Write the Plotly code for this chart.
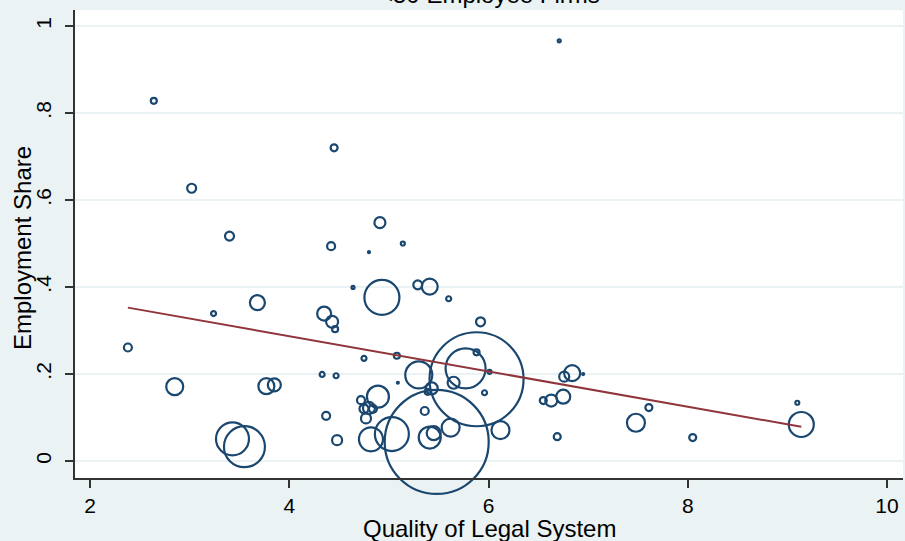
import plotly.graph_objects as go
import numpy as np

# Quality of legal system (x) and employment share of <50 employee firms (y)
legal_quality = [6.71, 2.64, 4.45, 3.02, 3.40, 4.91, 4.42, 4.80, 5.14, 4.64,
                 5.29, 5.41, 4.93, 5.60, 3.68, 3.24, 4.35, 4.43, 4.46, 5.92,
                 2.38, 4.75, 5.08, 5.88, 5.88, 5.77, 6.01, 4.33, 4.47, 5.09,
                 5.30, 5.65, 5.96, 5.43, 5.39, 4.89, 4.72, 4.75, 4.80, 4.84,
                 4.77, 4.37, 4.48, 4.82, 5.03, 5.48, 5.36, 5.41, 5.45, 5.62,
                 6.12, 2.85, 3.77, 3.85, 3.43, 3.55, 6.84, 6.76, 6.95, 6.75,
                 6.63, 6.55, 6.69, 7.48, 7.61, 8.05, 9.10, 9.14]
employment_share = [0.966, 0.828, 0.720, 0.627, 0.517, 0.548, 0.494, 0.480, 0.500, 0.399,
                    0.405, 0.401, 0.376, 0.373, 0.364, 0.339, 0.339, 0.320, 0.303, 0.320,
                    0.261, 0.236, 0.242, 0.250, 0.188, 0.213, 0.205, 0.199, 0.196, 0.180,
                    0.198, 0.180, 0.157, 0.167, 0.159, 0.148, 0.140, 0.120, 0.122, 0.120,
                    0.098, 0.104, 0.048, 0.050, 0.062, 0.044, 0.115, 0.054, 0.064, 0.077,
                    0.071, 0.171, 0.172, 0.175, 0.051, 0.033, 0.202, 0.194, 0.200, 0.148,
                    0.139, 0.139, 0.056, 0.088, 0.123, 0.054, 0.134, 0.084]
# Relative weight (e.g. country employment) that sets the bubble area
country_weight = [0.09, 0.36, 0.49, 0.81, 0.81, 1.21, 0.64, 0.04, 0.16, 0.09,
                  0.81, 2.56, 12.25, 0.25, 2.25, 0.25, 1.96, 1.44, 0.36, 0.81,
                  0.64, 0.25, 0.36, 0.36, 88.4, 16.0, 0.16, 0.25, 0.25, 0.04,
                  7.29, 1.44, 0.25, 1.44, 0.36, 4.84, 0.64, 0.81, 1.44, 0.64,
                  1.00, 0.64, 1.00, 5.76, 11.56, 108.2, 0.64, 4.84, 1.96, 3.24,
                  3.24, 2.89, 2.56, 1.69, 10.89, 16.81, 2.56, 1.00, 0.04, 1.96,
                  1.44, 0.49, 0.49, 3.24, 0.49, 0.49, 0.16, 6.25]

# Weighted linear fit
fit_intercept = 0.449
fit_slope = -0.0405

x_ticks = [2, 4, 6, 8, 10]
y_ticks = [0, 0.2, 0.4, 0.6, 0.8, 1]
y_ticktext = ["0", ".2", ".4", ".6", ".8", "1"]

fit_x = np.array([min(legal_quality), max(legal_quality)])
fit_y = fit_intercept + fit_slope * fit_x

NAVY = "#1a476f"
MAROON = "#90353b"
BG = "#eaf2f3"
FONT = "Liberation Sans, Arial, sans-serif"

fig = go.Figure()
fig.add_trace(go.Scatter(
    x=legal_quality, y=employment_share, mode="markers",
    marker=dict(size=country_weight, sizemode="area", sizeref=0.02, opacity=1,
                color="rgba(0,0,0,0)", line=dict(color=NAVY, width=2.2),
                symbol="circle"),
    cliponaxis=False, showlegend=False, hoverinfo="x+y"))
fig.add_trace(go.Scatter(
    x=fit_x, y=fit_y, mode="lines",
    line=dict(color=MAROON, width=2), showlegend=False))

fig.update_layout(
    width=905, height=541,
    margin=dict(l=75, r=2, t=10, b=63, autoexpand=False),
    paper_bgcolor=BG, plot_bgcolor="white",
    font=dict(family=FONT, color="black"),
    annotations=[
        dict(text="<50 Employee Firms", xref="paper", yref="paper",
             x=0.5, y=1, xanchor="center", yanchor="bottom", yshift=0,
             showarrow=False, font=dict(size=24, family=FONT, color="black")),
        dict(text="Quality of Legal System", xref="paper", yref="paper",
             x=0.5, y=0, xanchor="center", yanchor="middle", yshift=-50,
             showarrow=False, font=dict(size=24, family=FONT, color="black")),
        dict(text="Employment Share", xref="paper", yref="paper",
             x=0, y=0.5, xanchor="center", yanchor="middle", xshift=-53, yshift=-4,
             textangle=-90, showarrow=False,
             font=dict(size=24, family=FONT, color="black")),
    ],
)
fig.update_xaxes(
    range=[1.849, 10.161], tickvals=x_ticks, ticks="outside", ticklen=8,
    tickwidth=1.5, tickcolor="#333", showline=True, linecolor="#333", linewidth=1.5,
    showgrid=False, zeroline=False, tickfont=dict(size=21), automargin=False)
fig.update_yaxes(
    range=[-0.039, 1.0368], tickvals=y_ticks, ticktext=y_ticktext, tickangle=-90,
    ticks="outside", ticklen=8, tickwidth=1.5, tickcolor="#333",
    showline=True, linecolor="#333", linewidth=1.5,
    showgrid=True, gridcolor=BG, gridwidth=2, zeroline=False,
    tickfont=dict(size=21), automargin=False, ticklabelstandoff=6)

fig.write_html(
    "out.html",
    config={"displayModeBar": False},
    post_script="document.body.style.margin='0';document.body.style.background='%s';" % BG)
